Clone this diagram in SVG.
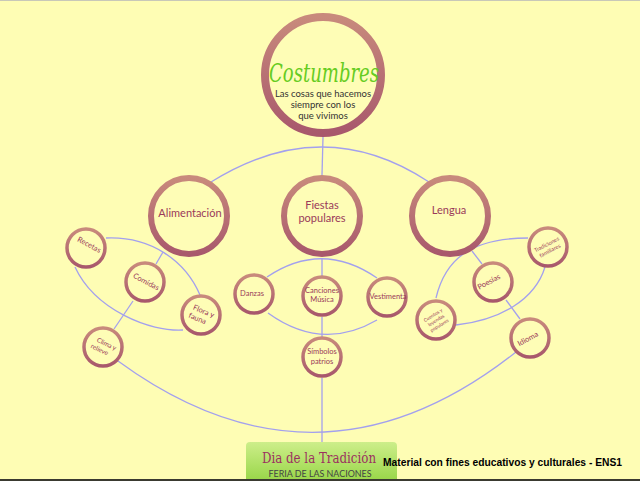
<svg xmlns="http://www.w3.org/2000/svg" width="640" height="481" viewBox="0 0 640 481">
<defs>
<linearGradient id="ring" x1="0" y1="0" x2="0" y2="1">
<stop offset="0" stop-color="#c88a7c"/>
<stop offset="1" stop-color="#a8586c"/>
</linearGradient>
<linearGradient id="box" x1="0" y1="0" x2="0" y2="1">
<stop offset="0" stop-color="#cdee8a"/>
<stop offset="1" stop-color="#98d648"/>
</linearGradient>
<style>
.bg{fill:#fefdb4}
.big{fill:#fefdb6;stroke:url(#ring);stroke-width:6}
.main{fill:#fefdb6;stroke:url(#ring);stroke-width:8}
.sm{fill:#fefdb6;stroke:url(#ring);stroke-width:3.5}
.c{fill:none;stroke:#a3a0ee;stroke-width:1.3}
.lb{font-family:Lato,"DejaVu Sans",sans-serif;fill:#9a3a5a;text-anchor:middle}
.l1{font-size:11px}
.l2{font-size:7.5px}
.sub{font-family:Lato,"DejaVu Sans",sans-serif;font-size:9.5px;fill:#333;text-anchor:middle}
</style>
</defs>
<rect class="bg" x="0" y="0" width="640" height="481"/>
<rect x="0" y="0" width="640" height="1" fill="#c8c8b8"/>
<g id="connectors">
<path class="c" d="M211,182 Q323,112 429,182"/>
<line class="c" x1="323" y1="137" x2="322" y2="175"/>
<line class="c" x1="163" y1="252" x2="156" y2="264"/>
<path class="c" d="M106,238 C150,236 185,260 200,295"/>
<path class="c" d="M75,267 C95,310 150,332 183,330"/>
<line class="c" x1="133" y1="301" x2="114" y2="329"/>
<path class="c" d="M118,361 Q319,508 516,352"/>
<line class="c" x1="322" y1="258" x2="322" y2="276"/>
<line class="c" x1="322" y1="317" x2="322" y2="337"/>
<line class="c" x1="322" y1="378" x2="322" y2="442"/>
<path class="c" d="M267,277 Q322,240 377,278"/>
<path class="c" d="M268,313 Q322,352 377,320"/>
<path class="c" d="M436,298 C445,260 470,238 528,238"/>
<path class="c" d="M456,325 C500,320 535,300 545,267"/>
<line class="c" x1="472" y1="251" x2="482" y2="264"/>
<line class="c" x1="506" y1="300" x2="520" y2="319"/>
</g>
<g id="costumbres">
<circle class="main" cx="323" cy="75" r="58"/>
<text x="324" y="82" text-anchor="middle" font-family="'DejaVu Serif',serif" font-style="italic" font-size="26" fill="#66cc22" textLength="110" lengthAdjust="spacingAndGlyphs">Costumbres</text>
<text class="sub" x="323" y="97">Las cosas que hacemos</text>
<text class="sub" x="323" y="108">siempre con los</text>
<text class="sub" x="323" y="119">que vivimos</text>
</g>
<g id="alimentacion">
<circle class="big" cx="189" cy="216" r="38"/>
<text class="lb l1" x="190" y="217">Alimentación</text>
</g>
<g id="fiestas">
<circle class="big" cx="322" cy="216" r="38"/>
<text class="lb l1" x="322" y="209">Fiestas</text>
<text class="lb l1" x="322" y="222">populares</text>
</g>
<g id="lengua">
<circle class="big" cx="450" cy="216" r="38"/>
<text class="lb l1" x="449" y="214">Lengua</text>
</g>
<g id="recetas">
<circle class="sm" cx="86" cy="248" r="19"/>
<text class="lb l2" transform="translate(88,247) rotate(28)">Recetas</text>
</g>
<g id="comidas">
<circle class="sm" cx="145" cy="282" r="19"/>
<text class="lb l2" transform="translate(145,284) rotate(28)">Comidas</text>
</g>
<g id="flora">
<circle class="sm" cx="201" cy="315" r="19"/>
<g transform="translate(201,315) rotate(22)">
<text class="lb l2" x="1" y="-2">Flora y</text>
<text class="lb l2" x="-2" y="7">fauna</text>
</g>
</g>
<g id="clima">
<circle class="sm" cx="103" cy="347" r="19"/>
<g transform="translate(103,347) rotate(25)">
<text class="lb" font-size="6.5" x="2" y="-2">Clima y</text>
<text class="lb" font-size="6.5" x="-2" y="6">relieve</text>
</g>
</g>
<g id="danzas">
<circle class="sm" cx="254" cy="294" r="19"/>
<text class="lb l2" x="252" y="296">Danzas</text>
</g>
<g id="canciones">
<circle class="sm" cx="322" cy="296" r="19"/>
<text class="lb l2" x="322" y="293">Canciones</text>
<text class="lb l2" x="322" y="302">Música</text>
</g>
<g id="vestimenta">
<circle class="sm" cx="387" cy="297" r="19"/>
<text class="lb l2" x="388" y="299">Vestimenta</text>
</g>
<g id="simbolos">
<circle class="sm" cx="322" cy="357" r="19"/>
<text class="lb l2" x="322" y="354">Símbolos</text>
<text class="lb l2" x="322" y="364">patrios</text>
</g>
<g id="poesias">
<circle class="sm" cx="493" cy="282" r="19"/>
<text class="lb l2" transform="translate(490,284) rotate(-28)">Poesías</text>
</g>
<g id="tradiciones">
<circle class="sm" cx="548" cy="247" r="19"/>
<g transform="translate(548,247) rotate(-28)">
<text class="lb" font-size="5.5" x="0" y="-1">Tradiciones</text>
<text class="lb" font-size="5.5" x="0" y="6">familiares</text>
</g>
</g>
<g id="cuentos">
<circle class="sm" cx="436" cy="320" r="19"/>
<g transform="translate(436,320) rotate(-32)">
<text class="lb" font-size="4.8" x="0" y="-4">Cuentos y</text>
<text class="lb" font-size="4.8" x="0" y="2">leyendas</text>
<text class="lb" font-size="4.8" x="0" y="8">populares</text>
</g>
</g>
<g id="idioma">
<circle class="sm" cx="530" cy="338" r="19"/>
<text class="lb l2" transform="translate(529,341) rotate(-28)">Idioma</text>
</g>
<g id="dia">
<path d="M246,481 V446 Q246,442 250,442 H393 Q397,442 397,446 V481 Z" fill="url(#box)"/>
<text x="319" y="463" text-anchor="middle" font-family="'DejaVu Serif',serif" font-size="14" fill="#9c3060" textLength="114" lengthAdjust="spacingAndGlyphs">Dia de la Tradición</text>
<text x="320" y="477" text-anchor="middle" font-family="Lato,'DejaVu Sans',sans-serif" font-size="9" fill="#444" textLength="103" lengthAdjust="spacingAndGlyphs">FERIA DE LAS NACIONES</text>
</g>
<text x="383" y="466" font-family="'Liberation Sans',Arial,sans-serif" font-weight="bold" font-size="11" fill="#000" textLength="239" lengthAdjust="spacingAndGlyphs">Material con fines educativos y culturales - ENS1</text>
<rect x="0" y="479" width="640" height="2" fill="#3a3a30"/>
</svg>
